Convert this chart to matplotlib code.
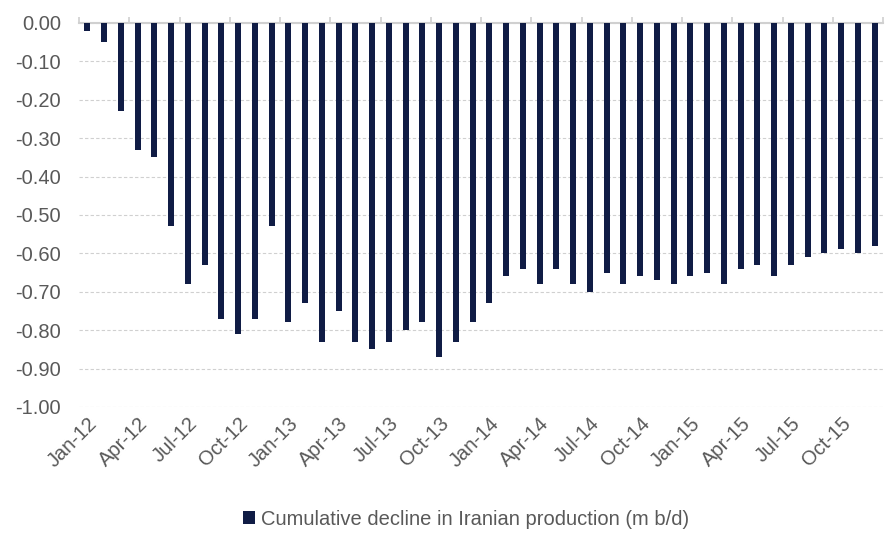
import matplotlib.pyplot as plt
import numpy as np

plt.rcParams['font.family'] = ['Liberation Sans', 'DejaVu Sans']

years = ['12', '13', '14', '15']
months = ['Jan', 'Feb', 'Mar', 'Apr', 'May', 'Jun',
          'Jul', 'Aug', 'Sep', 'Oct', 'Nov', 'Dec']
categories = [f'{m}-{y}' for y in years for m in months]

decline = [
    -0.02, -0.05, -0.23, -0.33, -0.35, -0.53, -0.68, -0.63, -0.77, -0.81, -0.77, -0.53,
    -0.78, -0.73, -0.83, -0.75, -0.83, -0.85, -0.83, -0.80, -0.78, -0.87, -0.83, -0.78,
    -0.73, -0.66, -0.64, -0.68, -0.64, -0.68, -0.70, -0.65, -0.68, -0.66, -0.67, -0.68,
    -0.66, -0.65, -0.68, -0.64, -0.63, -0.66, -0.63, -0.61, -0.60, -0.59, -0.60, -0.58,
]
series_name = 'Cumulative decline in Iranian production (m b/d)'
y_ticks = [0.0, -0.1, -0.2, -0.3, -0.4, -0.5, -0.6, -0.7, -0.8, -0.9, -1.0]

navy = '#101c45'
text_col = '#595959'
fs = 14.5

fig = plt.figure(figsize=(8.9, 5.34), dpi=100)
ax = fig.add_axes([0.0888, 0.238, 0.9034, 0.719])

x = np.arange(len(categories))
ax.bar(x, decline, width=0.36, color=navy, label=series_name, zorder=3)

ax.set_xlim(-0.5, len(categories) - 0.5)
ax.set_ylim(-1.0, 0.0)

ax.set_yticks(y_ticks)
ax.set_yticklabels([f'{v:.2f}' for v in y_ticks], fontsize=fs, color=text_col)
ax.tick_params(axis='y', length=0, pad=13)
ax.yaxis.grid(True, color='#d0d0d0', linestyle=(0, (3, 2)), linewidth=0.8, zorder=0)

lab_pos = x[::3]
ax.set_xticks(lab_pos)
ax.set_xticklabels([categories[i] for i in lab_pos], rotation=45, ha='right',
                   rotation_mode='anchor', fontsize=fs, color=text_col)
ax.tick_params(axis='x', which='major', length=0, pad=5)
ax.set_xticks(np.arange(-0.5, len(categories), 3), minor=True)
ax.tick_params(axis='x', which='minor', bottom=False, top=True, length=4,
               color='#d0d0d0', width=1.2, direction='out')

for s in ['left', 'right', 'bottom']:
    ax.spines[s].set_visible(False)
ax.spines['top'].set_color('#d0d0d0')
ax.spines['top'].set_linewidth(1.5)

fig.legend(loc='center', bbox_to_anchor=(0.524, 0.028), frameon=False,
           fontsize=fs, handlelength=0.6, handleheight=0.6, handletextpad=0.3,
           labelcolor=text_col)

fig.savefig('out.png', dpi=100)
